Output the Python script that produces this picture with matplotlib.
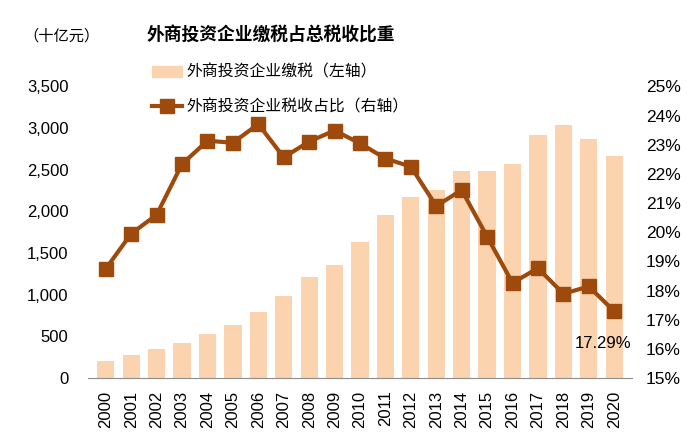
import matplotlib
matplotlib.use("Agg")
import matplotlib.pyplot as plt
from matplotlib.patches import Patch
from matplotlib.lines import Line2D

plt.rcParams['font.family'] = ['Liberation Sans', 'Noto Sans CJK SC']

years = [str(y) for y in range(2000, 2021)]
# 外商投资企业缴税, 十亿元
tax = [210, 280, 344, 416, 529, 632, 793, 989, 1209, 1362, 1638,
       1963, 2174, 2258, 2490, 2482, 2566, 2921, 3041, 2870, 2666]
# 税收占比, %
share = [18.75, 19.95, 20.6, 22.34, 23.14, 23.07, 23.71, 22.57, 23.11, 23.49, 23.05,
         22.53, 22.25, 20.9, 21.45, 19.85, 18.26, 18.77, 17.89, 18.14, 17.29]

bar_c = '#FBD3AF'
line_c = '#9E4A0C'

fig = plt.figure(figsize=(7, 4.42), dpi=100)
ax = fig.add_axes([88/700, 64/442, 544/700, 291.5/442])
x = list(range(len(years)))
ax.bar(x, tax, width=0.68, color=bar_c, zorder=1)
ax.set_ylim(0, 3500)
ax.set_xlim(-0.7, 20.7)
ax.set_yticks(range(0, 3501, 500))
ax.set_yticklabels(['{:,}'.format(v) for v in range(0, 3501, 500)], fontsize=12)
ax.set_xticks(x)
ax.set_xticklabels(years, rotation=90, fontsize=12)
for s in ['top', 'right', 'left']:
    ax.spines[s].set_visible(False)
ax.spines['bottom'].set_color('#8c8c8c')
ax.tick_params(length=0, pad=14)
ax.tick_params(axis='x', pad=9)

ax2 = ax.twinx()
ax2.plot(x, share, color=line_c, lw=3, marker='s', ms=9.5, zorder=3)
ax2.set_ylim(15, 25)
ax2.set_yticks(range(15, 26))
ax2.set_yticklabels(['%d%%' % v for v in range(15, 26)], fontsize=12.5)
for s in ['top', 'right', 'left', 'bottom']:
    ax2.spines[s].set_visible(False)
ax2.tick_params(length=0, pad=10)
ax2.annotate('%.2f%%' % share[-1], (x[-1], share[-1]), xytext=(-8, -23),
             textcoords='offset points', ha='center', va='center', fontsize=12)

fig.text(271/700, 1 - 36/442, '外商投资企业缴税占总税收比重', ha='center', va='center',
         fontsize=12.8, fontweight='bold')
fig.text(62/700, 1 - 36/442, '（十亿元）', ha='center', va='center', fontsize=11)

handles = [Patch(color=bar_c), Line2D([], [], color=line_c, lw=3, marker='s', ms=9.5)]
labels = ['外商投资企业缴税（左轴）', '外商投资企业税收占比（右轴）']
fig.legend(handles, labels, loc='upper left', bbox_to_anchor=(146/700, 1 - 58/442),
           frameon=False, fontsize=11.4, labelspacing=1.25, handlelength=1.9,
           handletextpad=0.25, borderaxespad=0)

fig.savefig('out.png', dpi=100)
